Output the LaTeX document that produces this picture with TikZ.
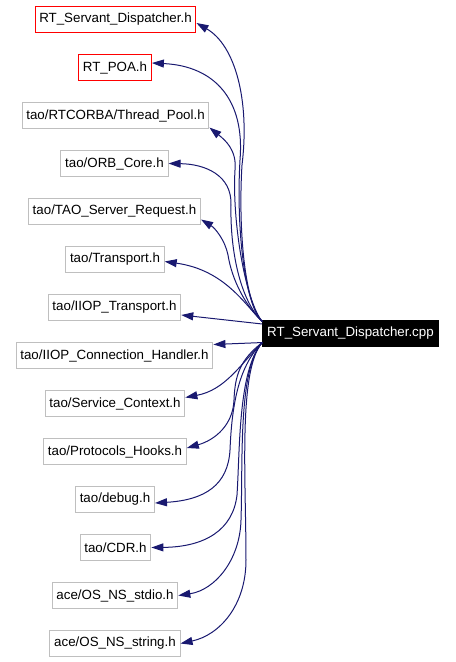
\documentclass[tikz,border=0pt]{standalone}
\usepackage{fontspec}
\setmainfont{Liberation Sans}
\usetikzlibrary{arrows.meta,calc}
\definecolor{edgeblue}{RGB}{25,25,112}
\definecolor{boxgray}{RGB}{191,191,191}
\definecolor{boxred}{RGB}{255,0,0}
\begin{document}
\begin{tikzpicture}[x=0.75pt,y=-0.75pt,
  font=\fontsize{10}{12}\selectfont,
  hdr/.style={draw=boxgray, fill=white, line width=0.75pt, inner xsep=3.2pt, inner ysep=0pt, minimum height=18.8pt, text=black},
  redbox/.style={hdr, draw=boxred},
  mainbox/.style={draw=black, fill=black, text=white, line width=0.75pt, inner xsep=3.4pt, inner ysep=0pt, minimum height=18.8pt},
  dep/.style={draw=edgeblue, line width=0.75pt, -{Triangle[length=9pt,width=6pt]}}]
\useasboundingbox (0,0) rectangle (456,662);
\node[redbox] (n1) at (115.5,19.5) {RT\_Servant\_Dispatcher.h};
\node[redbox] (n2) at (115,67.5) {RT\_POA.h};
\node[hdr] (n3) at (115.5,115.5) {tao/RTCORBA/Thread\_Pool.h};
\node[hdr] (n4) at (114.5,163.5) {tao/ORB\_Core.h};
\node[hdr] (n5) at (114.5,211.5) {tao/TAO\_Server\_Request.h};
\node[hdr] (n6) at (115,259.5) {tao/Transport.h};
\node[hdr] (n7) at (114.5,307.5) {tao/IIOP\_Transport.h};
\node[hdr] (n8) at (114.5,355.5) {tao/IIOP\_Connection\_Handler.h};
\node[hdr] (n9) at (115,403.5) {tao/Service\_Context.h};
\node[hdr] (n10) at (115,451.5) {tao/Protocols\_Hooks.h};
\node[hdr] (n11) at (115,499.5) {tao/debug.h};
\node[hdr] (n12) at (115.5,547.5) {tao/CDR.h};
\node[hdr] (n13) at (115,595.5) {ace/OS\_NS\_stdio.h};
\node[hdr] (n14) at (115,643.5) {ace/OS\_NS\_string.h};
\node[mainbox] (m) at (350.5,333.5) {RT\_Servant\_Dispatcher.cpp};
\coordinate (s1) at ($(m.north west)+(0,1)$);
\coordinate (s2) at ($(m.south west)+(0,-4)$);
\draw[dep] (s1) .. controls (245,305) and (238,230) .. (242,165) .. controls (250,100) and (235,45) .. ($(n1.east)+(0,3.5)$);
\draw[dep] (s1) .. controls (245,305) and (236,230) .. (240,160) .. controls (245,100) and (215,66) .. ($(n2.east)+(0,-4.5)$);
\draw[dep] (s1) .. controls (245,300) and (232,220) .. (235,170) .. controls (237,150) and (225,140) .. ($(n3.south east)+(0,-1)$);
\draw[dep] (s1) .. controls (240,300) and (230,250) .. (231,205) .. controls (232,175) and (205,164) .. (n4.east);
\draw[dep] (s1) .. controls (245,305) and (232,280) .. (228,255) .. controls (225,240) and (215,228) .. ($(n5.east)+(0,8)$);
\draw[dep] (s1) .. controls (245,305) and (225,270) .. ($(n6.east)+(0,2)$);
\draw[dep] ($(m.west)+(0,-9.5)$) -- ($(n7.east)+(0,7.5)$);
\draw[dep] (s2) -- ($(n8.east)+(0,-11)$);
\draw[dep] (s2) .. controls (240,365) and (225,390) .. ($(n9.east)+(0,-6)$);
\draw[dep] (s2) .. controls (240,360) and (235,375) .. (234,400) .. controls (233,425) and (215,440) .. ($(n10.east)+(0,-3.5)$);
\draw[dep] (s2) .. controls (240,365) and (232,400) .. (230,450) .. controls (228,485) and (205,500) .. ($(n11.east)+(0,3.5)$);
\draw[dep] (s2) .. controls (238,370) and (240,450) .. (237,495) .. controls (233,530) and (205,547) .. (n12.east);
\draw[dep] (s2) .. controls (238,370) and (243,460) .. (241,520) .. controls (240,560) and (215,590) .. (n13.east);
\draw[dep] (s2) .. controls (238,370) and (246,480) .. (246,560) .. controls (246,605) and (220,635) .. (n14.east);
\end{tikzpicture}
\end{document}
